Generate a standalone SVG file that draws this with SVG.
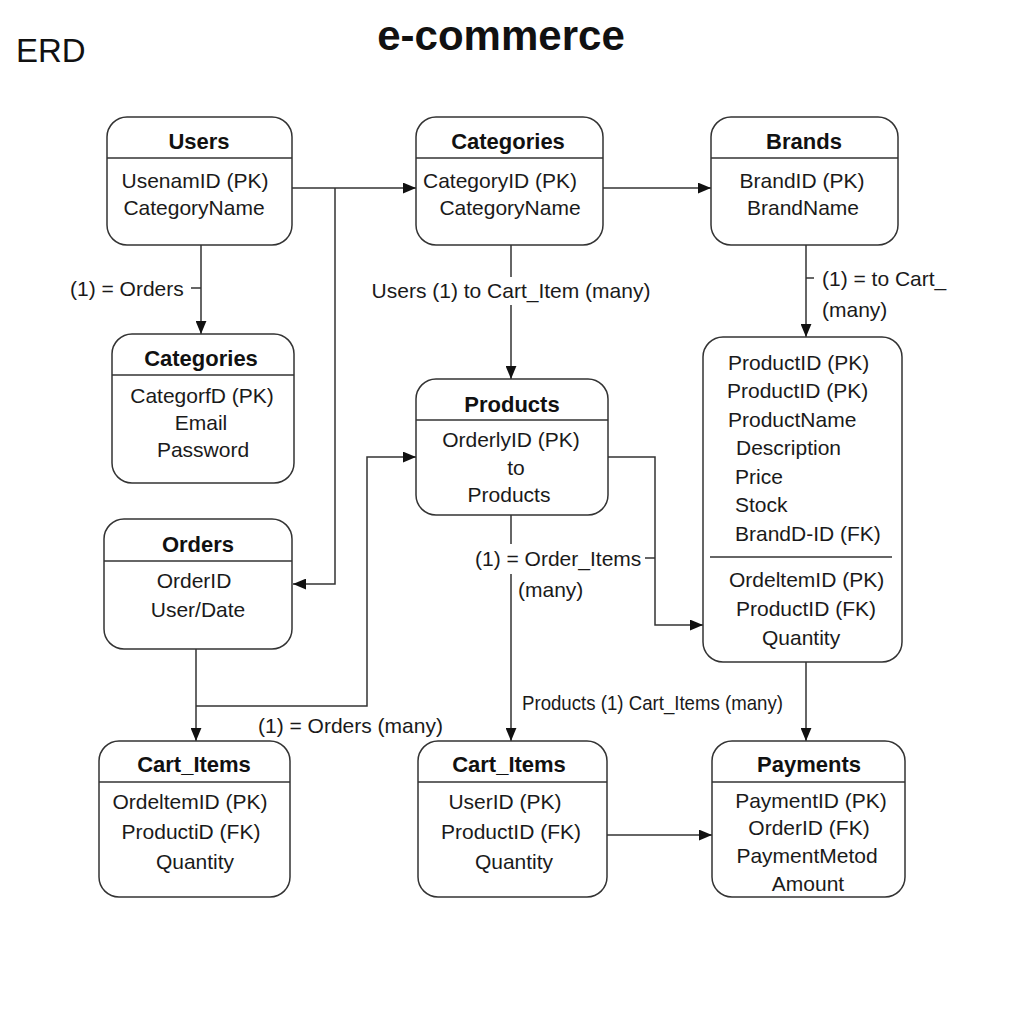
<svg xmlns="http://www.w3.org/2000/svg" width="1024" height="1024" viewBox="0 0 1024 1024">
<style>
.box{fill:#fff;stroke:#333;stroke-width:1.5}
.sep{stroke:#333;stroke-width:1.3}
.t{font-family:"Liberation Sans",Arial,sans-serif;font-size:22px;font-weight:bold;fill:#111;text-anchor:middle}
.f{font-family:"Liberation Sans",Arial,sans-serif;font-size:21px;fill:#1a1a1a;text-anchor:middle}
.fl{font-family:"Liberation Sans",Arial,sans-serif;font-size:21px;fill:#1a1a1a}
.lbl{font-family:"Liberation Sans",Arial,sans-serif;font-size:21px;fill:#1a1a1a}
.c{fill:none;stroke:#333;stroke-width:1.5}
.ca{fill:none;stroke:#333;stroke-width:1.5;marker-end:url(#arr)}
</style>
<defs>
<marker id="arr" markerUnits="userSpaceOnUse" viewBox="0 0 12 10" refX="12" refY="5" markerWidth="13" markerHeight="11" orient="auto">
<path d="M0,0 L12,5 L0,10 z" fill="#111"/>
</marker>
</defs>
<rect width="1024" height="1024" fill="#fff"/>
<text x="16" y="62" font-family="Liberation Sans, Arial, sans-serif" font-size="33" fill="#111">ERD</text>
<text x="501" y="50" font-family="Liberation Sans, Arial, sans-serif" font-size="42" font-weight="bold" fill="#111" text-anchor="middle">e-commerce</text>

<g id="connectors">
<path class="ca" d="M292,188 H416"/>
<path class="ca" d="M335,188 V584 H293"/>
<path class="ca" d="M603,188 H711"/>
<path class="ca" d="M201,245 V334"/>
<path class="c" d="M191,288 H201"/>
<path class="c" d="M511,245 V277"/>
<path class="ca" d="M511,305 V379"/>
<path class="ca" d="M806,245 V337"/>
<path class="c" d="M806,278 H814"/>
<path class="ca" d="M196,649 V741"/>
<path class="ca" d="M196,706 H367 V457 H416"/>
<path class="ca" d="M608,457 H655 V625 H703"/>
<path class="c" d="M645,558 H655"/>
<path class="c" d="M511,515 V544"/>
<path class="ca" d="M511,574 V741"/>
<path class="ca" d="M806,662 V741"/>
<path class="ca" d="M607,835 H712"/>
<text class="lbl" x="70" y="296">(1) = Orders</text>
<text class="lbl" x="511" y="298" text-anchor="middle">Users (1) to Cart_Item (many)</text>
<text class="lbl" x="822" y="286">(1) = to Cart_</text>
<text class="lbl" x="822" y="317">(many)</text>
<text class="lbl" x="475" y="566">(1) = Order_Items</text>
<text class="lbl" x="518" y="597">(many)</text>
<text class="lbl" x="522" y="710" textLength="261" lengthAdjust="spacingAndGlyphs">Products (1) Cart_Items (many)</text>
<text class="lbl" x="258" y="733">(1) = Orders (many)</text>
</g>

<g id="users">
<rect class="box" x="107" y="117" width="185" height="128" rx="20"/>
<line class="sep" x1="107" y1="158" x2="292" y2="158"/>
<text class="t" x="199" y="149">Users</text>
<text class="f" x="195" y="188">UsenamID (PK)</text>
<text class="f" x="194" y="215">CategoryName</text>
</g>

<g id="categories-top">
<rect class="box" x="416" y="117" width="187" height="128" rx="20"/>
<line class="sep" x1="416" y1="158" x2="603" y2="158"/>
<text class="t" x="508" y="149">Categories</text>
<text class="f" x="500" y="188">CategoryID (PK)</text>
<text class="f" x="510" y="215">CategoryName</text>
</g>

<g id="brands">
<rect class="box" x="711" y="117" width="187" height="128" rx="20"/>
<line class="sep" x1="711" y1="158" x2="898" y2="158"/>
<text class="t" x="804" y="149">Brands</text>
<text class="f" x="802" y="188">BrandID (PK)</text>
<text class="f" x="803" y="215">BrandName</text>
</g>

<g id="categories-left">
<rect class="box" x="112" y="334" width="182" height="149" rx="20"/>
<line class="sep" x1="112" y1="375" x2="294" y2="375"/>
<text class="t" x="201" y="366">Categories</text>
<text class="f" x="202" y="403">CategorfD (PK)</text>
<text class="f" x="201" y="430">Email</text>
<text class="f" x="203" y="457">Password</text>
</g>

<g id="products">
<rect class="box" x="416" y="379" width="192" height="136" rx="20"/>
<line class="sep" x1="416" y1="420" x2="608" y2="420"/>
<text class="t" x="512" y="412">Products</text>
<text class="f" x="511" y="447">OrderlyID (PK)</text>
<text class="f" x="516" y="475">to</text>
<text class="f" x="509" y="502">Products</text>
</g>

<g id="product-detail">
<rect class="box" x="703" y="337" width="199" height="325" rx="20"/>
<line class="sep" x1="710" y1="557" x2="892" y2="557"/>
<text class="fl" x="728" y="370">ProductID (PK)</text>
<text class="fl" x="727" y="398">ProductID (PK)</text>
<text class="fl" x="728" y="427">ProductName</text>
<text class="fl" x="736" y="455">Description</text>
<text class="fl" x="735" y="484">Price</text>
<text class="fl" x="735" y="512">Stock</text>
<text class="fl" x="735" y="541">BrandD-ID (FK)</text>
<text class="fl" x="729" y="587">OrdeltemID (PK)</text>
<text class="fl" x="736" y="616">ProductID (FK)</text>
<text class="fl" x="762" y="645">Quantity</text>
</g>

<g id="orders">
<rect class="box" x="104" y="519" width="188" height="130" rx="20"/>
<line class="sep" x1="104" y1="561" x2="292" y2="561"/>
<text class="t" x="198" y="552">Orders</text>
<text class="f" x="194" y="588">OrderID</text>
<text class="f" x="198" y="617">User/Date</text>
</g>

<g id="cart-items-left">
<rect class="box" x="99" y="741" width="191" height="156" rx="20"/>
<line class="sep" x1="99" y1="782" x2="290" y2="782"/>
<text class="t" x="194" y="772">Cart_Items</text>
<text class="f" x="190" y="809">OrdeltemID (PK)</text>
<text class="f" x="191" y="839">ProductiD (FK)</text>
<text class="f" x="195" y="869">Quantity</text>
</g>

<g id="cart-items-mid">
<rect class="box" x="418" y="741" width="189" height="156" rx="20"/>
<line class="sep" x1="418" y1="782" x2="607" y2="782"/>
<text class="t" x="509" y="772">Cart_Items</text>
<text class="f" x="505" y="809">UserID (PK)</text>
<text class="f" x="511" y="839">ProductID (FK)</text>
<text class="f" x="514" y="869">Quantity</text>
</g>

<g id="payments">
<rect class="box" x="712" y="741" width="193" height="156" rx="20"/>
<line class="sep" x1="712" y1="782" x2="905" y2="782"/>
<text class="t" x="809" y="772">Payments</text>
<text class="f" x="811" y="808">PaymentID (PK)</text>
<text class="f" x="809" y="835">OrderID (FK)</text>
<text class="f" x="807" y="863">PaymentMetod</text>
<text class="f" x="808" y="891">Amount</text>
</g>
</svg>
